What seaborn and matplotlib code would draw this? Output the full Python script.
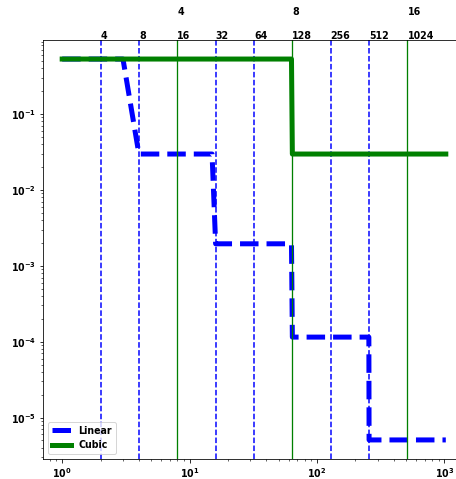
import matplotlib
matplotlib.use("Agg")
import matplotlib.pyplot as plt
import matplotlib.transforms as mtransforms
import pandas as pd
import seaborn as sns

plt.rcParams["font.weight"] = "bold"
plt.rcParams["axes.labelweight"] = "bold"
plt.rcParams["mathtext.default"] = "bf"
plt.rcParams["font.size"] = 9.5

# Error curves (piecewise constant between refinement levels)
linear_x = [1, 3, 4, 15, 16, 63, 64, 255, 256, 1024]
linear_err = [0.53, 0.53, 0.0297, 0.0297, 0.00195, 0.00195,
              1.15e-4, 1.15e-4, 5.08e-6, 5.08e-6]
cubic_x = [1, 63, 64, 1024]
cubic_err = [0.53, 0.53, 0.0297, 0.0297]

# Refinement markers and their annotations
linear_marks = [2, 4, 16, 32, 128, 256]
cubic_marks = [8, 64, 512]
lower_x = [2, 4, 8, 16, 32, 64, 128, 256, 512]
lower_labels = ["4", "8", "16", "32", "64", "128", "256", "512", "1024"]
upper_x = [8, 64, 512]
upper_labels = ["4", "8", "16"]

linear_df = pd.DataFrame({"x": linear_x, "err": linear_err})
cubic_df = pd.DataFrame({"x": cubic_x, "err": cubic_err})

fig = plt.figure(figsize=(456 / 72, 479 / 72), dpi=72)
ax = fig.add_axes([0.0943, 0.0418, 0.9254, 0.8747])

sns.lineplot(data=linear_df, x="x", y="err", ax=ax, color="b",
             linestyle="--", linewidth=5, label="Linear", sort=False)

for xv in linear_marks:
    ax.axvline(xv, color="b", linestyle="--", linewidth=1.5)
for xv in cubic_marks:
    ax.axvline(xv, color="g", linestyle="-", linewidth=1.3)

sns.lineplot(data=cubic_df, x="x", y="err", ax=ax, color="g",
             linestyle="-", linewidth=5, label="Cubic", sort=False)

ax.set_xscale("log")
ax.set_yscale("log")
ax.set_xlabel("")
ax.set_ylabel("")

trans = mtransforms.blended_transform_factory(ax.transData, ax.transAxes)
for xv, lab in zip(lower_x, lower_labels):
    ax.text(xv, 1.003, lab, transform=trans, ha="left", va="baseline",
            fontweight="bold")
for xv, lab in zip(upper_x, upper_labels):
    ax.text(xv, 1.06, lab, transform=trans, ha="left", va="baseline",
            fontweight="bold")

ax.legend(loc="lower left")

fig.savefig("out.png", dpi=72)
